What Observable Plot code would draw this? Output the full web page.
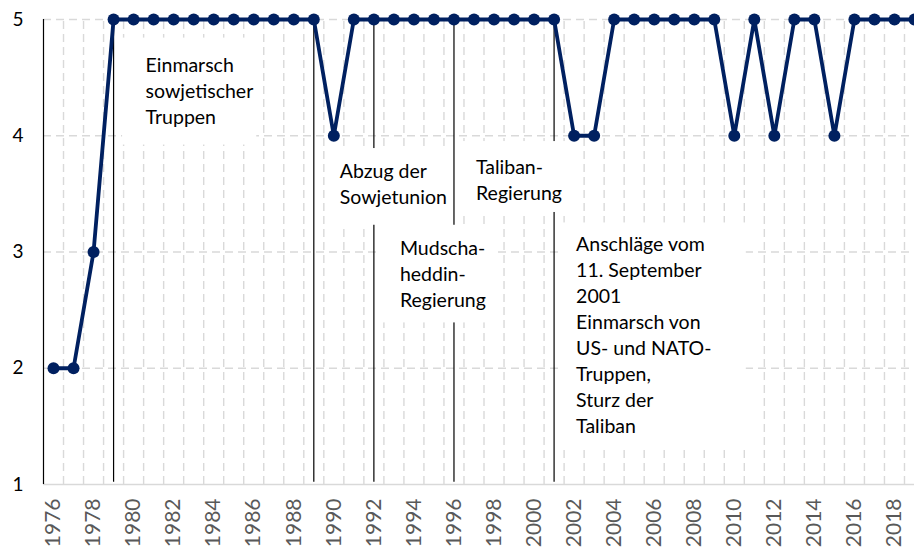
<!DOCTYPE html>
<html>
<head>
<meta charset="utf-8">
<script src="https://cdn.jsdelivr.net/npm/d3@7"></script>
<script src="https://cdn.jsdelivr.net/npm/@observablehq/plot@0.6"></script>
<style>
  html, body { margin: 0; padding: 0; background: #ffffff; }
  #chart svg { display: block; }
</style>
</head>
<body>
<div id="chart"></div>
<script>
const years = [1976,1977,1978,1979,1980,1981,1982,1983,1984,1985,1986,1987,1988,1989,1990,1991,1992,1993,1994,1995,1996,1997,1998,1999,2000,2001,2002,2003,2004,2005,2006,2007,2008,2009,2010,2011,2012,2013,2014,2015,2016,2017,2018,2019];
const values = [2,2,3,5,5,5,5,5,5,5,5,5,5,5,4,5,5,5,5,5,5,5,5,5,5,5,4,4,5,5,5,5,5,5,4,5,4,5,5,4,5,5,5,5];
const tickYears = [1976,1978,1980,1982,1984,1986,1988,1990,1992,1994,1996,1998,2000,2002,2004,2006,2008,2010,2012,2014,2016,2018];
const yTicks = [1,2,3,4,5];
const eventYears = [1979,1989,1992,1996,2001];

const annoLabels = [
  "Einmarsch\nsowjetischer\nTruppen",
  "Abzug der\nSowjetunion",
  "Taliban-\nRegierung",
  "Mudscha-\nheddin-\nRegierung",
  "Anschläge vom\n11. September\n2001\nEinmarsch von\nUS- und NATO-\nTruppen,\nSturz der\nTaliban"
];
// annotation anchors in data units (year, value)
const annoTextX = [1980.6, 1990.3, 1997.1, 1993.3, 2002.1];
const annoTextY = [4.398, 3.594, 3.628, 2.824, 2.299];
const annoBoxX1 = [1979.45, 1989.85, 1996.45, 1992.3, 2001.25];
const annoBoxX2 = [1986.15, 1995.75, 2001.6, 1998.1, 2010.6];
const annoBoxY1 = [3.92, 3.23, 3.34, 2.39, 1.31];
const annoBoxY2 = [4.84, 3.89, 3.95, 3.23, 3.25];

const data = years.map((y, i) => ({year: y, value: values[i]}));
const annos = annoLabels.map((t, i) => ({
  label: t, tx: annoTextX[i], ty: annoTextY[i],
  x1: annoBoxX1[i], x2: annoBoxX2[i], y1: annoBoxY1[i], y2: annoBoxY2[i]
}));
const gridX = years.slice(0, -1).map(y => y + 0.5);

const chart = Plot.plot({
  width: 914,
  height: 552,
  marginLeft: 43,
  marginRight: 0,
  marginTop: 19,
  marginBottom: 68,
  style: {fontFamily: "Lato, 'Open Sans', sans-serif", background: "#ffffff"},
  x: {type: "linear", domain: [1975.5, 2019]},
  y: {domain: [1, 5]},
  marks: [
    Plot.ruleY([2,3,4,5], {stroke: "#d9d9d9", strokeWidth: 1.4, strokeDasharray: "8,5"}),
    Plot.ruleX(gridX, {y1: 1, y2: 5, stroke: "#d9d9d9", strokeWidth: 1.4, strokeDasharray: "8,5"}),
    Plot.ruleY([1], {stroke: "#d9d9d9", strokeWidth: 1.5}),
    Plot.ruleX([1975.5], {y1: 1, y2: 5, stroke: "#000000", strokeWidth: 1.2}),
    Plot.ruleX(eventYears, {y1: 1.02, y2: 5, stroke: "#000000", strokeWidth: 1.2}),
    Plot.rect(annos, {x1: "x1", x2: "x2", y1: "y1", y2: "y2", fill: "#ffffff"}),
    Plot.text(annos, {x: "tx", y: "ty", text: "label", textAnchor: "start", lineAnchor: "middle", fontSize: 19.5, lineHeight: 1.333, fill: "#000000"}),
    Plot.line(data, {x: "year", y: "value", stroke: "#002060", strokeWidth: 3.8}),
    Plot.dot(data, {x: "year", y: "value", r: 6, fill: "#002060", stroke: "none"}),
    Plot.axisX({ticks: tickYears, tickFormat: d => String(d), tickRotate: -90, tickSize: 0, tickPadding: 14, fontSize: 21, fill: "#595959"}),
    Plot.axisY({ticks: yTicks, tickFormat: d => String(d), tickSize: 0, tickPadding: 20, fontSize: 19, fill: "#000000"})
  ]
});
document.getElementById("chart").appendChild(chart);
</script>
</body>
</html>
